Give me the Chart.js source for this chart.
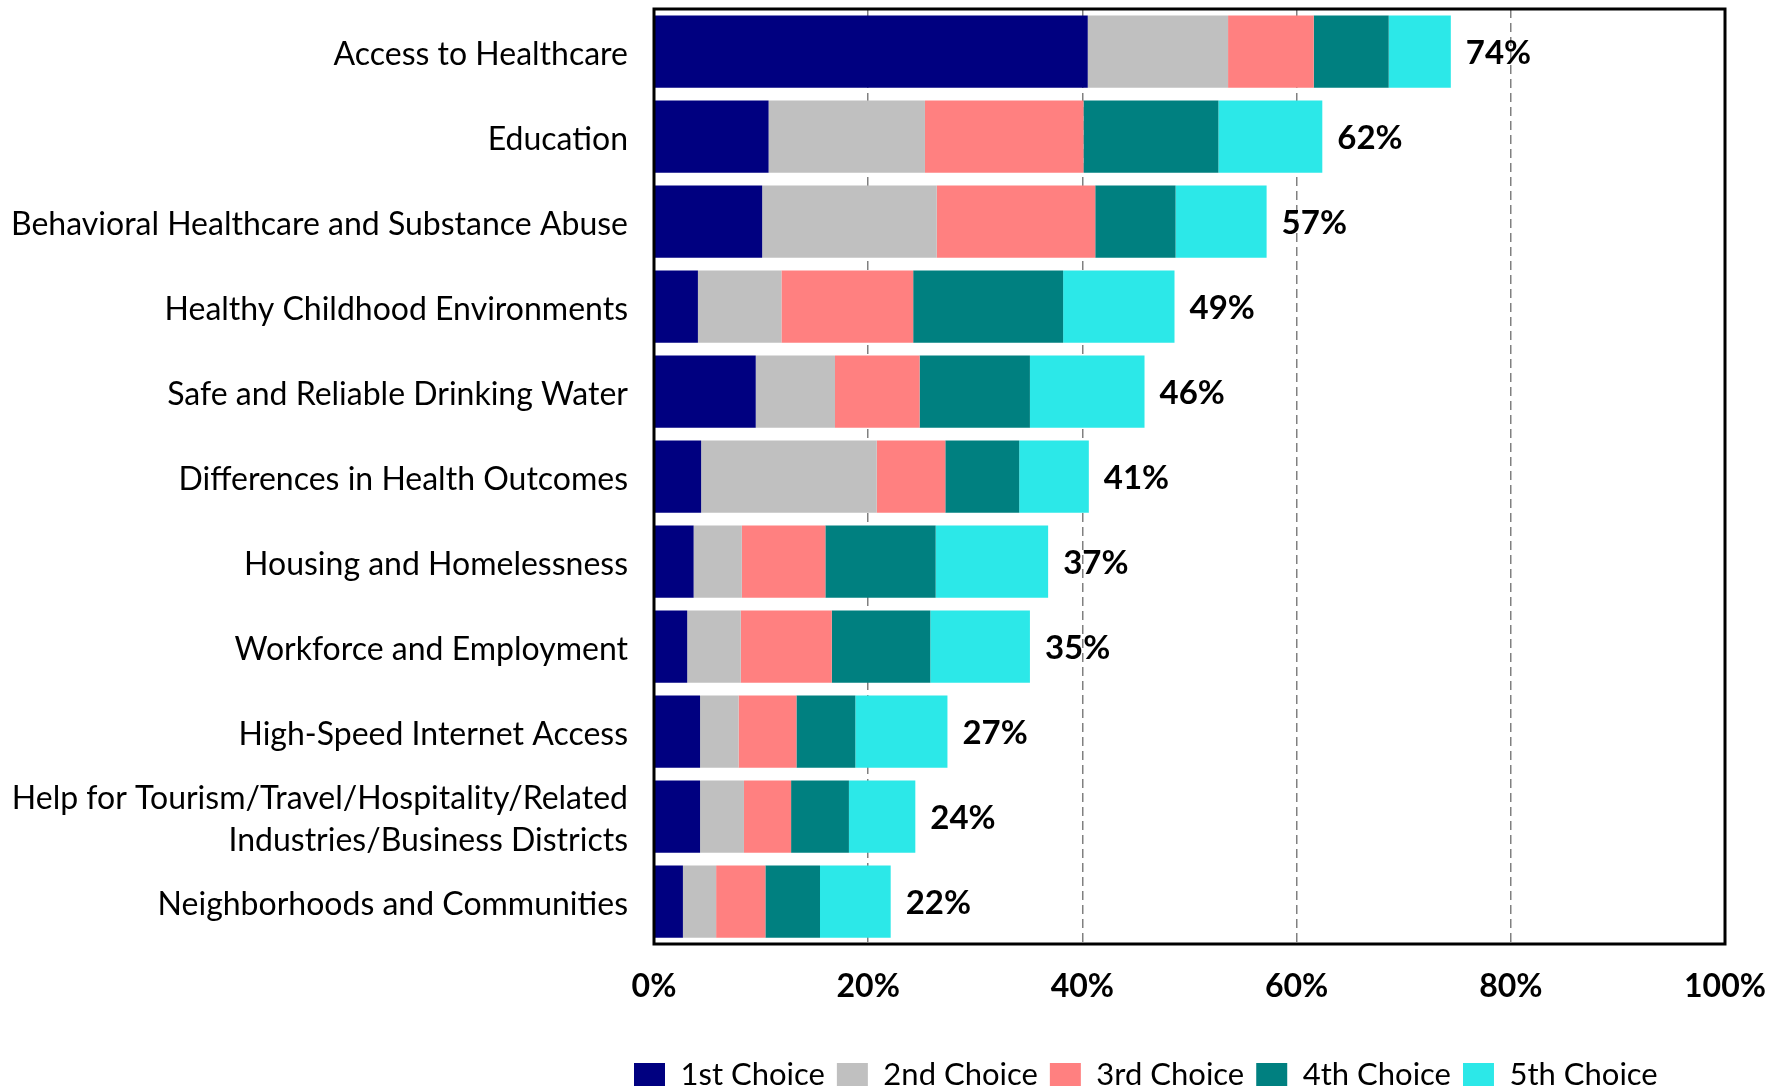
<!DOCTYPE html>
<html>
<head>
<meta charset="utf-8">
<script src="https://cdn.jsdelivr.net/npm/chart.js@4/dist/chart.umd.min.js"></script>
<style>
  html, body { margin: 0; padding: 0; background: #fff; }
  #wrap { width: 1790px; height: 1089px; }
</style>
</head>
<body>
<div id="wrap"><canvas id="myChart"></canvas></div>
<script>
const categories = [
  "Access to Healthcare",
  "Education",
  "Behavioral Healthcare and Substance Abuse",
  "Healthy Childhood Environments",
  "Safe and Reliable Drinking Water",
  "Differences in Health Outcomes",
  "Housing and Homelessness",
  "Workforce and Employment",
  "High-Speed Internet Access",
  ["Help for Tourism/Travel/Hospitality/Related", "Industries/Business Districts"],
  "Neighborhoods and Communities",
];

const firstChoice = [40.5, 10.7, 10.1, 4.1, 9.5, 4.4, 3.7, 3.1, 4.3, 4.3, 2.7];
const secondChoice = [13.1, 14.6, 16.3, 7.8, 7.4, 16.4, 4.5, 5.0, 3.6, 4.1, 3.1];
const thirdChoice = [8.0, 14.8, 14.8, 12.3, 7.9, 6.4, 7.8, 8.5, 5.4, 4.4, 4.6];
const fourthChoice = [7.0, 12.6, 7.5, 14.0, 10.3, 6.9, 10.3, 9.2, 5.5, 5.4, 5.1];
const fifthChoice = [5.8, 9.7, 8.5, 10.4, 10.7, 6.5, 10.5, 9.3, 8.6, 6.2, 6.6];

// totals printed at the end of each bar
const totals = [74, 62, 57, 49, 46, 41, 37, 35, 27, 24, 22];

const seriesNames = ["1st Choice", "2nd Choice", "3rd Choice", "4th Choice", "5th Choice"];
const seriesColors = ["#000080", "#C0C0C0", "#FF8080", "#008080", "#2CE8E8"];

const fontFamily = "Lato, 'Liberation Sans', sans-serif";

// prints the total % to the right of each stacked bar
const totalLabels = {
  id: "totalLabels",
  afterDatasetsDraw(chart) {
    const ctx = chart.ctx;
    const meta = chart.getDatasetMeta(chart.data.datasets.length - 1);
    ctx.save();
    ctx.font = "bold 33px " + fontFamily;
    ctx.fillStyle = "#000";
    ctx.textAlign = "left";
    ctx.textBaseline = "middle";
    meta.data.forEach((bar, i) => {
      ctx.fillText(totals[i] + "%", bar.x + 15, bar.y + 2);
    });
    ctx.restore();
  },
};

// black frame round the plot area
const plotFrame = {
  id: "plotFrame",
  afterDraw(chart) {
    const { ctx, chartArea: a } = chart;
    ctx.save();
    ctx.strokeStyle = "#000";
    ctx.lineWidth = 3;
    ctx.strokeRect(a.left, a.top, a.right - a.left, a.bottom - a.top);
    ctx.restore();
  },
};

// legend sits a bit to the right and lower, under the plot
const legendShift = {
  id: "legendShift",
  afterLayout(chart) {
    chart.legend.left = chart.chartArea.left - 32;
    chart.legend.top += 11;
  },
};

const pintarGrafica = () => {
  new Chart(document.getElementById("myChart"), {
    type: "bar",
    data: {
      labels: categories,
      datasets: [firstChoice, secondChoice, thirdChoice, fourthChoice, fifthChoice].map((d, i) => ({
        label: seriesNames[i],
        data: d,
        backgroundColor: seriesColors[i],
        borderWidth: 0,
        categoryPercentage: 1,
        barPercentage: 0.85,
      })),
    },
    options: {
      indexAxis: "y",
      responsive: true,
      maintainAspectRatio: false,
      animation: false,
      layout: { padding: { top: 9, right: 65, left: 0, bottom: 0 } },
      scales: {
        x: {
          stacked: true,
          min: 0,
          max: 100,
          afterFit(scale) { scale.height = 92; },
          ticks: {
            stepSize: 20,
            padding: 23,
            color: "#000",
            font: { family: fontFamily, size: 32, weight: "bold" },
            callback: (v) => v + "%",
          },
          grid: { color: "#808080", lineWidth: 1.5, drawTicks: false },
          border: { display: false, dash: [9, 5] },
        },
        y: {
          stacked: true,
          afterFit(scale) {
            scale.width = 654;
            scale.paddingTop = 0;
            scale.paddingBottom = 0;
          },
          ticks: {
            autoSkip: false,
            padding: 18,
            labelOffset: 3,
            color: "#000",
            font: { family: fontFamily, size: 32, lineHeight: 1.3 },
          },
          grid: { display: false },
          border: { display: false },
        },
      },
      plugins: {
        legend: {
          position: "bottom",
          align: "start",
          labels: {
            boxWidth: 31,
            boxHeight: 23,
            padding: 12,
            color: "#000",
            font: { family: fontFamily, size: 31 },
          },
        },
        tooltip: { enabled: false },
      },
    },
    plugins: [totalLabels, plotFrame, legendShift],
  });
};

window.addEventListener("load", pintarGrafica);
</script>
</body>
</html>
